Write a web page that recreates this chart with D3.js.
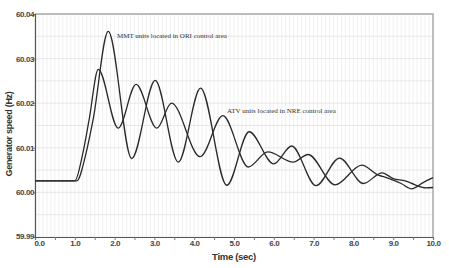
<!DOCTYPE html>
<html>
<head>
<meta charset="utf-8">
<script src="https://cdn.jsdelivr.net/npm/d3@7"></script>
<style>
  body { margin: 0; background: #fff; }
  svg { display: block; }
</style>
</head>
<body>
<svg id="svg-area"></svg>
<script>
/* data */
let timeMMT = [0, 1.05, 1.28, 1.46, 1.84, 2.43, 3.02, 3.6, 4.16, 4.82, 5.38, 6.0, 6.45, 7.06, 7.65, 8.25, 8.72, 9.0, 9.3, 9.55, 9.82, 10.0];
let speedMMT = [60.0026, 60.0026, 60.0087, 60.0163, 60.0361, 60.0076, 60.0251, 60.0068, 60.0234, 60.0016, 60.0136, 60.0064, 60.0104, 60.0015, 60.0077, 60.0020, 60.0044, 60.0031, 60.0026, 60.0017, 60.0010, 60.0011];

let timeATV = [0, 1.0, 1.2, 1.36, 1.59, 2.09, 2.54, 3.06, 3.43, 4.15, 4.72, 5.36, 5.85, 6.49, 6.86, 7.54, 8.21, 8.6, 8.9, 9.2, 9.46, 9.75, 10.0];
let speedATV = [60.0026, 60.0026, 60.0087, 60.0163, 60.0276, 60.0144, 60.0242, 60.0144, 60.0200, 60.0080, 60.0172, 60.0057, 60.0091, 60.0068, 60.0085, 60.0017, 60.0061, 60.0040, 60.0031, 60.0020, 60.0008, 60.0022, 60.0033];

let xTicks = [0, 1, 2, 3, 4, 5, 6, 7, 8, 9, 10];
let yTicks = [59.99, 60.00, 60.01, 60.02, 60.03, 60.04];
let labelMMT = "MMT units located in ORI control area";
let labelATV = "ATV units located in NRE control area";

let margin = { left: 35, right: 16, top: 14, bottom: 31 };
let width = 449;
let height = 268;

let svg = d3.select("#svg-area")
  .attr("width", width)
  .attr("height", height);

let xScale = d3.scaleLinear()
  .domain([0, 10])
  .range([margin.left, width - margin.right]);
let yScale = d3.scaleLinear()
  .domain([59.99, 60.04])
  .range([height - margin.bottom, margin.top]);

/* grid */
svg.append("g")
  .selectAll("line")
  .data(d3.range(0, 10.001, 0.1))
  .join("line")
  .attr("x1", d => xScale(d)).attr("x2", d => xScale(d))
  .attr("y1", yScale(60.04)).attr("y2", yScale(59.99))
  .attr("stroke", "#ececec")
  .attr("stroke-width", 0.8);
svg.append("g")
  .selectAll("line")
  .data(d3.range(59.99, 60.0401, 0.005))
  .join("line")
  .attr("x1", xScale(0)).attr("x2", xScale(10))
  .attr("y1", d => yScale(d)).attr("y2", d => yScale(d))
  .attr("stroke", "#e2e2e2")
  .attr("stroke-width", 0.8);

/* frame top / right */
svg.append("path")
  .attr("d", "M" + xScale(0) + "," + yScale(60.04) + "H" + xScale(10) + "V" + yScale(59.99))
  .attr("fill", "none")
  .attr("stroke", "#aaa")
  .attr("stroke-width", 1.5);

/* x axis */
let xAxis = svg.append("g")
  .attr("transform", "translate(0," + (height - margin.bottom) + ")")
  .call(
    d3.axisBottom(xScale)
      .tickValues(d3.range(0, 10.001, 0.5))
      .tickSize(3)
      .tickFormat(d => xTicks.includes(d) ? d3.format(".1f")(d) : "")
  );
xAxis.select(".domain").attr("stroke", "#555").attr("stroke-width", 1.2);
xAxis.selectAll(".tick line").attr("stroke", "#777");
xAxis.selectAll("text")
  .attr("fill", "#444")
  .attr("y", 3.5)
  .attr("dy", "0.71em")
  .attr("dx", d => d === 0 ? 4 : 0)   // the first label sits a bit to the right
  .style("font", "bold 8px 'Liberation Sans', Arial, sans-serif")
  .style("letter-spacing", "-0.4px");

/* y axis */
let yAxis = svg.append("g")
  .attr("transform", "translate(" + margin.left + ",0)")
  .call(
    d3.axisLeft(yScale)
      .tickValues(yTicks)
      .tickSize(2)
      .tickFormat(d3.format(".2f"))
  );
yAxis.select(".domain").attr("stroke", "#555").attr("stroke-width", 1.2);
yAxis.selectAll(".tick line").attr("stroke", "#777");
yAxis.selectAll("text")
  .attr("fill", "#444")
  .attr("x", -1)
  .attr("dy", d => d === 59.99 ? "0.2em" : "0.32em")
  .style("font", "bold 8px 'Liberation Sans', Arial, sans-serif")
  .style("letter-spacing", "-0.4px");

/* curves */
let line = d3.line()
  .x(d => xScale(d[0]))
  .y(d => yScale(d[1]))
  .curve(d3.curveMonotoneX);

svg.append("path")
  .datum(d3.zip(timeMMT, speedMMT))
  .attr("d", line)
  .attr("fill", "none")
  .attr("stroke", "#2a2a2a")
  .attr("stroke-width", 1.3);
svg.append("path")
  .datum(d3.zip(timeATV, speedATV))
  .attr("d", line)
  .attr("fill", "none")
  .attr("stroke", "#2a2a2a")
  .attr("stroke-width", 1.3);

/* annotations */
svg.append("text")
  .attr("x", 117)
  .attr("y", 37.5)
  .attr("fill", "#333")
  .style("font", "7px 'Liberation Serif', 'Times New Roman', serif")
  .text(labelMMT);
svg.append("text")
  .attr("x", 227)
  .attr("y", 112.5)
  .attr("fill", "#333")
  .style("font", "7px 'Liberation Serif', 'Times New Roman', serif")
  .text(labelATV);

/* axis titles */
svg.append("text")
  .attr("x", (xScale(0) + xScale(10)) / 2)
  .attr("y", 259.5)
  .attr("text-anchor", "middle")
  .attr("fill", "#333")
  .style("font", "bold 9.5px 'Liberation Sans', Arial, sans-serif")
  .style("letter-spacing", "-0.3px")
  .text("Time (sec)");
svg.append("text")
  .attr("transform", "translate(12," + 134 + ") rotate(-90)")
  .attr("text-anchor", "middle")
  .attr("fill", "#333")
  .style("font", "bold 9px 'Liberation Sans', Arial, sans-serif")
  .style("letter-spacing", "-0.3px")
  .text("Generator speed (Hz)");
</script>
</body>
</html>
